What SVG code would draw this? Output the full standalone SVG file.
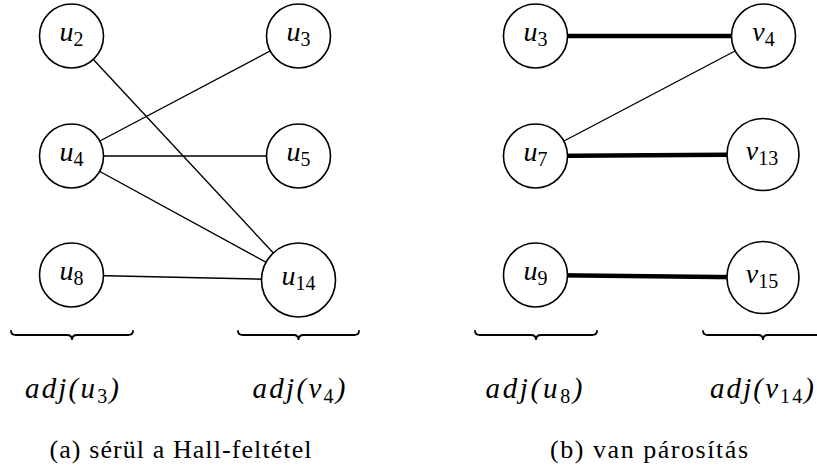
<svg xmlns="http://www.w3.org/2000/svg" width="817" height="468" viewBox="0 0 817 468">
<style>
.node circle{fill:#fff;stroke:#000;stroke-width:1.6}
.lbl{font-style:italic;font-size:28px;fill:#000;text-anchor:middle}
.sub{font-style:normal;font-size:20px}
.thin{stroke:#000;stroke-width:1.4;fill:none}
.thick{stroke:#000;stroke-width:4.5;fill:none}
.brace{stroke:#000;stroke-width:1.8;fill:none;stroke-linecap:round}
.adj{font-style:italic;font-size:29px;fill:#000;text-anchor:middle}
.cap{font-size:26px;fill:#000;text-anchor:middle}
</style>
<g id="connectors">
<line class="thin" x1="71.5" y1="36" x2="298.5" y2="280"/>
<line class="thin" x1="71.5" y1="156" x2="298.5" y2="36"/>
<line class="thin" x1="71.5" y1="156" x2="298.5" y2="156"/>
<line class="thin" x1="71.5" y1="156" x2="298.5" y2="280"/>
<line class="thin" x1="71.5" y1="275" x2="298.5" y2="280"/>
<line class="thick" x1="535.5" y1="36" x2="763.5" y2="36"/>
<line class="thin" x1="763.5" y1="36" x2="535.5" y2="156"/>
<line class="thick" x1="535.5" y1="156" x2="763" y2="154.5"/>
<line class="thick" x1="535.5" y1="275" x2="763" y2="277.5"/>
</g>
<g id="a_u2" class="node"><circle cx="71.5" cy="36" r="32"/><text class="lbl" x="71.5" y="41" style="font-family:'Liberation Serif',serif">u<tspan class="sub" dy="5">2</tspan></text></g>
<g id="a_u3" class="node"><circle cx="298.5" cy="36" r="32"/><text class="lbl" x="298.5" y="41" style="font-family:'Liberation Serif',serif">u<tspan class="sub" dy="5">3</tspan></text></g>
<g id="a_u4" class="node"><circle cx="71.5" cy="156" r="32"/><text class="lbl" x="71.5" y="161" style="font-family:'Liberation Serif',serif">u<tspan class="sub" dy="5">4</tspan></text></g>
<g id="a_u5" class="node"><circle cx="298.5" cy="156" r="32"/><text class="lbl" x="298.5" y="161" style="font-family:'Liberation Serif',serif">u<tspan class="sub" dy="5">5</tspan></text></g>
<g id="a_u8" class="node"><circle cx="71.5" cy="275" r="32"/><text class="lbl" x="71.5" y="280" style="font-family:'Liberation Serif',serif">u<tspan class="sub" dy="5">8</tspan></text></g>
<g id="a_u14" class="node"><circle cx="298.5" cy="280" r="37"/><text class="lbl" x="298.5" y="285" style="font-family:'Liberation Serif',serif">u<tspan class="sub" dy="5">14</tspan></text></g>
<g id="b_u3" class="node"><circle cx="535.5" cy="36" r="32"/><text class="lbl" x="535.5" y="41" style="font-family:'Liberation Serif',serif">u<tspan class="sub" dy="5">3</tspan></text></g>
<g id="b_v4" class="node"><circle cx="763.5" cy="36" r="32"/><text class="lbl" x="763.5" y="41" style="font-family:'Liberation Serif',serif">v<tspan class="sub" dy="5">4</tspan></text></g>
<g id="b_u7" class="node"><circle cx="535.5" cy="156" r="32"/><text class="lbl" x="535.5" y="161" style="font-family:'Liberation Serif',serif">u<tspan class="sub" dy="5">7</tspan></text></g>
<g id="b_v13" class="node"><circle cx="763" cy="154.5" r="36"/><text class="lbl" x="762" y="159.5" style="font-family:'Liberation Serif',serif">v<tspan class="sub" dy="5">13</tspan></text></g>
<g id="b_u9" class="node"><circle cx="535.5" cy="275" r="32"/><text class="lbl" x="535.5" y="280" style="font-family:'Liberation Serif',serif">u<tspan class="sub" dy="5">9</tspan></text></g>
<g id="b_v15" class="node"><circle cx="763" cy="277.5" r="36"/><text class="lbl" x="762" y="282.5" style="font-family:'Liberation Serif',serif">v<tspan class="sub" dy="5">15</tspan></text></g>
<g id="braces">
<path class="brace" d="M11,331 Q11,335 16,335 L67,335 Q72,335 72,340 Q72,335 77,335 L128,335 Q133,335 133,331"/>
<path class="brace" d="M238,331 Q238,335 243,335 L293.5,335 Q298.5,335 298.5,340 Q298.5,335 303.5,335 L354,335 Q359,335 359,331"/>
<path class="brace" d="M475,331 Q475,335 480,335 L531,335 Q536,335 536,340 Q536,335 541,335 L592,335 Q597,335 597,331"/>
<path class="brace" d="M703,331 Q703,335 708,335 L758,335 Q763,335 763,340 Q763,335 768,335 L818,335 Q823,335 823,331"/>
</g>
<g id="labels">
<text class="adj" x="72" y="398" textLength="94" lengthAdjust="spacing" style="font-family:'Liberation Serif',serif">adj(u<tspan class="sub" dy="5">3</tspan><tspan dy="-5">)</tspan></text>
<text class="adj" x="299" y="398" textLength="93" lengthAdjust="spacing" style="font-family:'Liberation Serif',serif">adj(v<tspan class="sub" dy="5">4</tspan><tspan dy="-5">)</tspan></text>
<text class="adj" x="534" y="398" textLength="97" lengthAdjust="spacing" style="font-family:'Liberation Serif',serif">adj(u<tspan class="sub" dy="5">8</tspan><tspan dy="-5">)</tspan></text>
<text class="adj" x="762" y="398" textLength="104" lengthAdjust="spacing" style="font-family:'Liberation Serif',serif">adj(v<tspan class="sub" dy="5">14</tspan><tspan dy="-5">)</tspan></text>
<text class="cap" x="180.5" y="458" textLength="262" lengthAdjust="spacing" style="font-family:'Liberation Serif',serif">(a) sérül a Hall-feltétel</text>
<text class="cap" x="649" y="458" textLength="198" lengthAdjust="spacing" style="font-family:'Liberation Serif',serif">(b) van párosítás</text>
</g>
</svg>
